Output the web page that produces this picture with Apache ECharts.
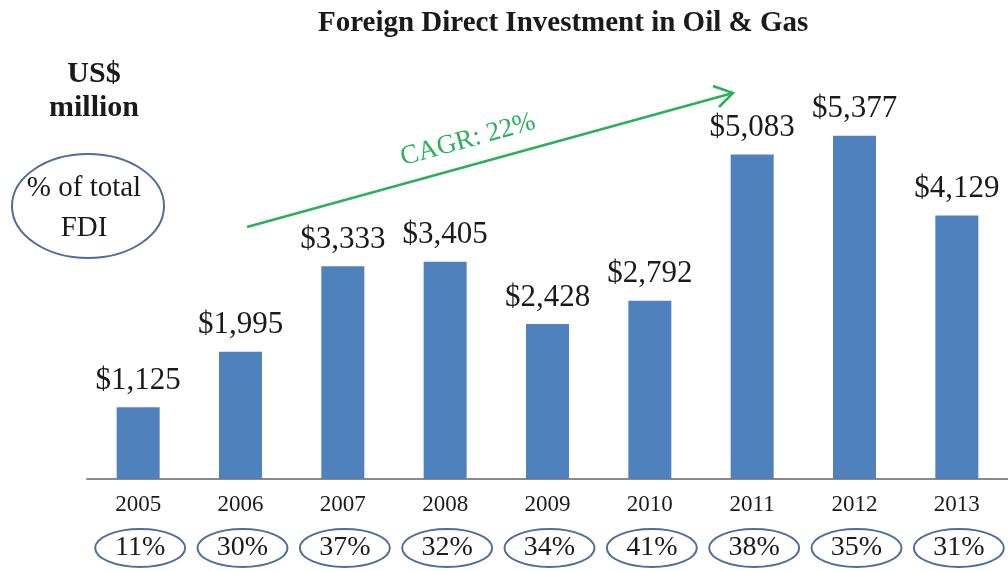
<!DOCTYPE html>
<html>
<head>
<meta charset="utf-8">
<title>Foreign Direct Investment in Oil & Gas</title>
<script src="https://cdn.jsdelivr.net/npm/echarts@6/dist/echarts.min.js"></script>
<style>
html, body { margin: 0; padding: 0; background: #fff; }
#chart { width: 1008px; height: 571px; }
</style>
</head>
<body>
<div id="chart"></div>
<script>
// data
var years = ['2005', '2006', '2007', '2008', '2009', '2010', '2011', '2012', '2013'];
var fdiOilGas = [1125, 1995, 3333, 3405, 2428, 2792, 5083, 5377, 4129]; // US$ million
var shareOfTotal = [11, 30, 37, 32, 34, 41, 38, 35, 31]; // % of total FDI
var cagrText = 'CAGR: 22%';

var serif = '"Liberation Serif", "Times New Roman", serif';
var green = '#2bb05a';
var ringColor = '#4d6f9e';

var chart = echarts.init(document.getElementById('chart'));

var option = {
  animation: false,
  title: {
    text: 'Foreign Direct Investment in Oil & Gas',
    left: 313,
    top: 4,
    textStyle: { fontFamily: serif, fontSize: 29, fontWeight: 'bold', color: '#1a1a1a' }
  },
  grid: {
    left: 87,
    width: 927,
    top: 96,
    bottom: 92
  },
  xAxis: {
    type: 'category',
    data: years,
    axisTick: { show: false },
    axisLine: { lineStyle: { color: '#8a8a8a', width: 2 } },
    axisLabel: {
      margin: 14,
      fontFamily: serif,
      fontSize: 23,
      color: '#1a1a1a'
    }
  },
  yAxis: {
    type: 'value',
    min: 0,
    max: 6000,
    show: false,
    splitLine: { show: false }
  },
  series: [
    {
      name: 'FDI',
      type: 'bar',
      data: fdiOilGas,
      barWidth: 43,
      itemStyle: { color: '#4f81bd' },
      label: {
        show: true,
        position: 'top',
        distance: 11,
        fontFamily: serif,
        fontSize: 31,
        color: '#1a1a1a',
        formatter: function (p) {
          return '$' + p.value.toLocaleString('en-US');
        }
      }
    },
    {
      // % of total FDI, ringed under each year
      name: 'share',
      type: 'custom',
      clip: false,
      data: shareOfTotal.map(function (v, i) { return [i, 0, v]; }),
      encode: { x: 0, y: 1 },
      renderItem: function (params, api) {
        var p = api.coord([api.value(0), 0]);
        var cx = p[0] + 2, cy = p[1] + 69;
        return {
          type: 'group',
          children: [
            {
              type: 'ellipse',
              shape: { cx: cx, cy: cy, rx: 45, ry: 19 },
              style: { fill: '#fff', stroke: ringColor, lineWidth: 2 }
            },
            {
              type: 'text',
              x: cx,
              y: cy,
              style: {
                text: api.value(2) + '%',
                align: 'center',
                verticalAlign: 'middle',
                font: '28px ' + serif,
                fill: '#1a1a1a'
              }
            }
          ]
        };
      }
    }
  ],
  graphic: [
    {
      type: 'text',
      x: 94, y: 57,
      style: {
        text: 'US$\nmillion',
        font: 'bold 30px ' + serif,
        lineHeight: 34,
        align: 'center',
        fill: '#1a1a1a'
      }
    },
    {
      type: 'ellipse',
      shape: { cx: 88, cy: 206, rx: 76, ry: 52 },
      style: { fill: '#fff', stroke: ringColor, lineWidth: 2 }
    },
    {
      type: 'text',
      x: 84, y: 208,
      style: {
        text: '% of total\nFDI',
        font: '29px ' + serif,
        lineHeight: 40,
        align: 'center',
        verticalAlign: 'middle',
        fill: '#1a1a1a'
      }
    },
    {
      type: 'line',
      shape: { x1: 247, y1: 227, x2: 733, y2: 93 },
      style: { stroke: green, lineWidth: 2.5 }
    },
    {
      type: 'polyline',
      shape: { points: [[713, 86], [733, 93], [719, 107]] },
      style: { stroke: green, lineWidth: 2.5, fill: null }
    },
    {
      type: 'text',
      x: 468, y: 140,
      rotation: 0.27,
      style: {
        text: cagrText,
        font: '27px ' + serif,
        align: 'center',
        verticalAlign: 'middle',
        fill: green
      }
    }
  ]
};

chart.setOption(option);
</script>
</body>
</html>
